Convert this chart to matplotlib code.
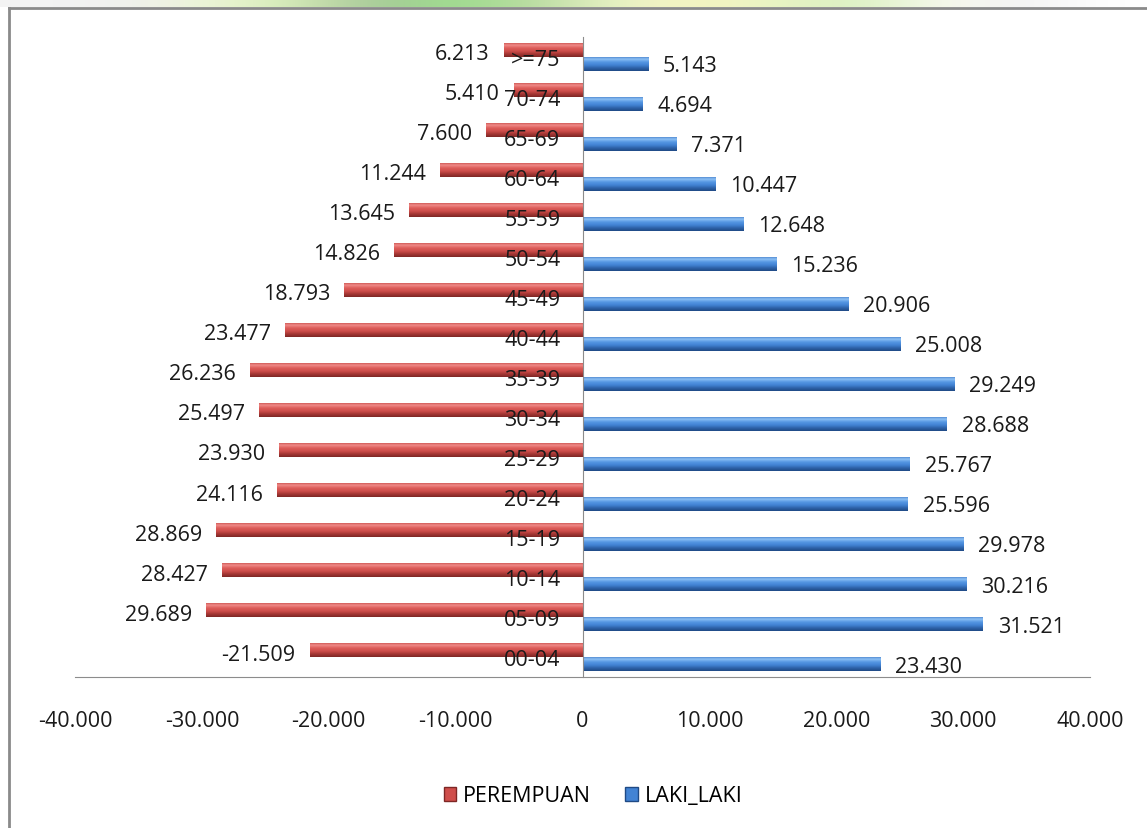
import numpy as np
import matplotlib
matplotlib.use("Agg")
import matplotlib.pyplot as plt
from matplotlib.patches import Patch
from matplotlib.lines import Line2D
from matplotlib.colors import LinearSegmentedColormap, to_rgb
from matplotlib.ticker import FuncFormatter

plt.rcParams["font.family"] = ["Open Sans", "DejaVu Sans"]

FS = 15.5

categories = ["00-04", "05-09", "10-14", "15-19", "20-24", "25-29", "30-34", "35-39",
              "40-44", "45-49", "50-54", "55-59", "60-64", "65-69", "70-74", ">=75"]
perempuan = [21509, 29689, 28427, 28869, 24116, 23930, 25497, 26236,
             23477, 18793, 14826, 13645, 11244, 7600, 5410, 6213]
laki_laki = [23430, 31521, 30216, 29978, 25596, 25767, 28688, 29249,
             25008, 20906, 15236, 12648, 10447, 7371, 4694, 5143]
x_ticks = [-40000, -30000, -20000, -10000, 0, 10000, 20000, 30000, 40000]

# bottom -> top shading of the cylinder-like excel bars
RED = ["#7e2725", "#a53734", "#cf4e4b", "#dc5d5a", "#f08a88", "#c24845"]
BLUE = ["#1f4a85", "#2d62a8", "#4283d4", "#5496e2", "#8cc0f4", "#3d77c4"]


def dots(v, pos=None):
    return f"{int(round(v)):,}".replace(",", ".")


def shaded_bars(ax, y, widths, h, cols):
    cmap = LinearSegmentedColormap.from_list("bar", cols)
    grad = np.linspace(0, 1, 64).reshape(-1, 1)
    bars = ax.barh(y, widths, height=h, color=cols[2], edgecolor="none", zorder=1)
    for b in bars:
        x0, y0, w, hh = b.get_x(), b.get_y(), b.get_width(), b.get_height()
        im = ax.imshow(grad, cmap=cmap, origin="lower", aspect="auto",
                       extent=[x0, x0 + w, y0, y0 + hh], zorder=1.2, interpolation="bilinear")
        im.set_clip_path(b)
    return bars


fig = plt.figure(figsize=(11.47, 8.29), dpi=100)

# decorative strip at the very top and the grey frame
strip = fig.add_axes([0, 1 - 8 / 829, 1, 8 / 829])
strip_cols = ["#f4f4f4", "#f0f0f0", "#eef5d8", "#d8efb8", "#a8c49a", "#9be08c",
              "#b8d8a0", "#eaf4c8", "#f7f3c0", "#e8f4c4", "#d8f0c0", "#fafaf0", "#f2f2f2", "#ffffff"]
strip.imshow(np.array([[to_rgb(c) for c in strip_cols]]), aspect="auto", interpolation="bicubic")
strip.axis("off")
fig.add_artist(Line2D([9 / 1147, 9 / 1147], [0, 1 - 9 / 829], color="#8a8a8a", lw=2))
fig.add_artist(Line2D([9 / 1147, 1], [1 - 9 / 829, 1 - 9 / 829], color="#8a8a8a", lw=2))

ax = fig.add_axes([75 / 1147, 1 - 678 / 829, (1090 - 75) / 1147, (678 - 37.5) / 829])

y = np.arange(len(categories))
h = 0.35
y_red = y + h / 2
y_blue = y - h / 2
red_w = -np.array(perempuan)
blue_w = np.array(laki_laki)

shaded_bars(ax, y_red, red_w, h, RED)
shaded_bars(ax, y_blue, blue_w, h, BLUE)

for i in range(len(categories)):
    # the source shows the sign only on the first female label
    txt = dots(perempuan[i]) if i > 0 else "-" + dots(perempuan[i])
    ax.annotate(txt, (red_w[i], y_red[i]), xytext=(-10, -3), textcoords="offset points",
                ha="right", va="center", fontsize=FS, color="#1a1a1a")
    ax.annotate(dots(blue_w[i]), (blue_w[i], y_blue[i]), xytext=(11, -1.5),
                textcoords="offset points", ha="left", va="center", fontsize=FS, color="#1a1a1a")

ax.set_xlim(-40000, 40000)
ax.set_ylim(-0.5, len(categories) - 0.5)
ax.set_xticks(x_ticks)
ax.xaxis.set_major_formatter(FuncFormatter(dots))
ax.set_yticks(y)
ax.set_yticklabels(categories)

for s in ["top", "right"]:
    ax.spines[s].set_visible(False)
ax.spines["left"].set_position(("data", 0))
ax.spines["left"].set_color("#8c8c8c")
ax.spines["bottom"].set_color("#8c8c8c")
ax.spines["left"].set_zorder(3)
ax.tick_params(axis="x", length=0, pad=24, labelsize=FS, colors="#1a1a1a")
ax.tick_params(axis="y", length=0, pad=16, labelsize=FS, colors="#1a1a1a")
for t in ax.get_yticklabels():
    t.set_zorder(5)
ax.set_facecolor("none")

handles = [Patch(facecolor=RED[2], edgecolor=RED[0], label="PEREMPUAN"),
           Patch(facecolor=BLUE[2], edgecolor=BLUE[0], label="LAKI_LAKI")]
fig.legend(handles=handles, loc="center", bbox_to_anchor=(593 / 1147, 1 - 797 / 829), ncol=2,
           frameon=False, fontsize=FS, handlelength=0.6, handleheight=0.6,
           handletextpad=0.3, columnspacing=1.6)

plt.savefig("out.png", dpi=100)
plt.close()
